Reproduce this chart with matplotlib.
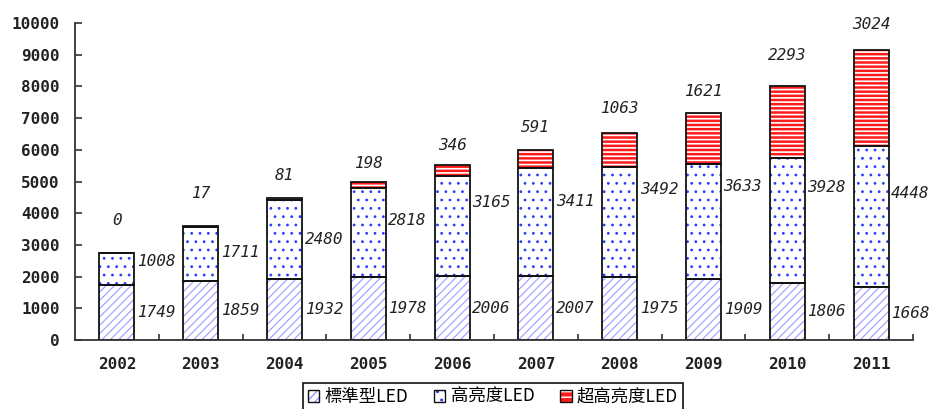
import numpy as np
import matplotlib
matplotlib.use('agg')
import matplotlib.pyplot as plt
from matplotlib.patches import Patch

years = ['2002', '2003', '2004', '2005', '2006', '2007', '2008', '2009', '2010', '2011']
standard = [1749, 1859, 1932, 1978, 2006, 2007, 1975, 1909, 1806, 1668]
high = [1008, 1711, 2480, 2818, 3165, 3411, 3492, 3633, 3928, 4448]
ultra = [0, 17, 81, 198, 346, 591, 1063, 1621, 2293, 3024]
series_names = ['標準型LED', '高亮度LED', '超高亮度LED']

# where the value labels sit (data units)
high_label_y = [2470, 2754, 3155, 3763, 4322, 4363, 4732, 4836, 4826, 4637]
ultra_label_y = [3785, 4637, 5205, 5574, 6151, 6697, 7318, 7833, 8960, 9937]

STD_C = '#9b9bff'
HI_C = '#2a3cff'
UL_C = '#ff1a1a'

fig = plt.figure(figsize=(9.32, 4.09), dpi=100)
ax = fig.add_axes([75 / 932, 1 - 340 / 409, 838 / 932, 317 / 409])

x = np.arange(len(years))
w = 0.42
std = np.array(standard)
hi = np.array(high)
ul = np.array(ultra)

# hatched fills first, black outlines on top
with plt.rc_context({'hatch.linewidth': 0.8}):
    ax.bar(x, std, w, color='white', edgecolor=STD_C, hatch='////', linewidth=0)
    ax.bar(x, hi, w, bottom=std, color='white', edgecolor=HI_C, hatch='..', linewidth=0)
with plt.rc_context({'hatch.linewidth': 1.2}):
    ax.bar(x, ul, w, bottom=std + hi, color=UL_C, edgecolor='white', hatch='----', linewidth=0)
for bottom, h in [(0, std), (std, hi), (std + hi, ul)]:
    ax.bar(x, h, w, bottom=bottom, fill=False, edgecolor='#111111', linewidth=1.3)

lab = dict(family='DejaVu Sans Mono', style='oblique', fontsize=11.5, color='#222222')
for i in x:
    ax.text(i + 0.47, std[i] / 2, str(standard[i]), ha='center', va='center', **lab)
    ax.text(i + 0.47, high_label_y[i], str(high[i]), ha='center', va='center', **lab)
    ax.text(i, ultra_label_y[i], str(ultra[i]), ha='center', va='center', **lab)

ax.set_xlim(-0.5, len(years) - 0.5)
ax.set_ylim(0, 10000)
ax.set_yticks(np.arange(0, 10001, 1000))
ax.set_xticks(x)
ax.set_xticklabels(years)
ax.set_xticks(np.arange(0.5, len(years), 1), minor=True)
for s in ['top', 'right']:
    ax.spines[s].set_visible(False)
for s in ['left', 'bottom']:
    ax.spines[s].set_linewidth(1.3)
    ax.spines[s].set_color('#333333')
ax.tick_params(axis='y', direction='in', length=5, width=1.2, color='#333333', pad=11)
ax.tick_params(axis='x', which='major', length=0, pad=12)
ax.tick_params(axis='x', which='minor', direction='in', length=4, width=1.2, color='#333333')
for t in ax.get_yticklabels() + ax.get_xticklabels():
    t.set_family('DejaVu Sans Mono')
    t.set_fontweight('bold')
    t.set_fontsize(11.5)
    t.set_color('#222222')

# legend: hatched square with a black frame over it
with plt.rc_context({'hatch.linewidth': 0.8}):
    fills = [Patch(facecolor='white', edgecolor=STD_C, hatch='////', linewidth=0),
             Patch(facecolor='white', edgecolor=HI_C, hatch='..', linewidth=0),
             Patch(facecolor=UL_C, edgecolor='white', hatch='---', linewidth=0)]
handles = [(f, Patch(fill=False, edgecolor='#111111', linewidth=1.0)) for f in fills]
leg = fig.legend(handles, series_names, loc='center', bbox_to_anchor=(493 / 932, 1 - 397 / 409),
                 ncol=3, frameon=True, fancybox=False, framealpha=1, edgecolor='#111111',
                 handlelength=0.65, handleheight=0.65, handletextpad=0.3, columnspacing=1.5,
                 borderpad=0.3, prop={'family': ['Noto Sans CJK TC', 'DejaVu Sans'], 'size': 12.5})
leg.get_frame().set_linewidth(1.2)

fig.savefig('out.png', dpi=100)
